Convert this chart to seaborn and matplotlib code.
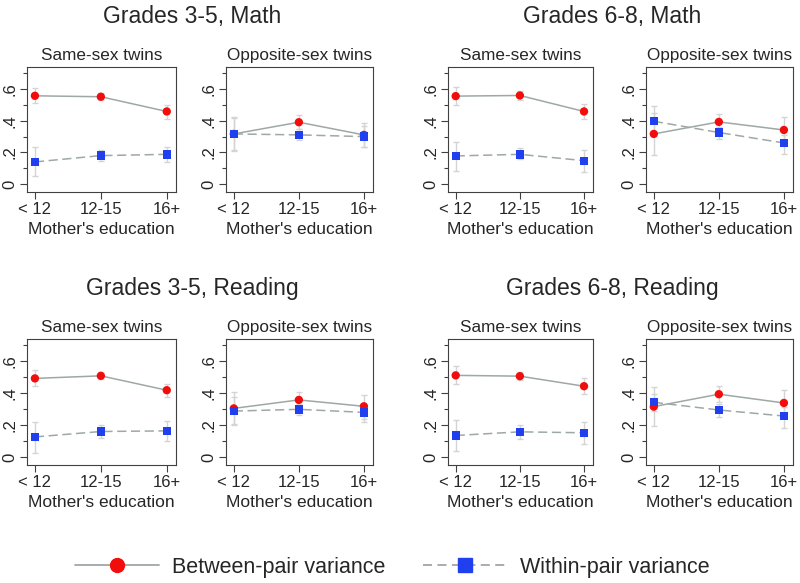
"""Between- vs within-pair variance of twin test scores by mother's education."""

import numpy as np
import pandas as pd
import matplotlib
matplotlib.use("Agg")
import matplotlib.pyplot as plt
from matplotlib.lines import Line2D
import seaborn as sns

sns.set_theme(style="white")
plt.rcParams["font.family"] = ["Liberation Sans", "DejaVu Sans"]

# ── data ─────────────────────────────────────────────────────────────────────
edu_levels = ["< 12", "12-15", "16+"]

# Grades 3-5, Math
m35_same_btw = [0.558, 0.552, 0.459]
m35_same_btw_ci = [(0.512, 0.607), (0.530, 0.575), (0.414, 0.499)]
m35_same_wth = [0.140, 0.180, 0.188]
m35_same_wth_ci = [(0.049, 0.233), (0.148, 0.216), (0.140, 0.237)]
m35_opp_btw = [0.317, 0.391, 0.311]
m35_opp_btw_ci = [(0.215, 0.420), (0.347, 0.438), (0.237, 0.385)]
m35_opp_wth = [0.317, 0.311, 0.300]
m35_opp_wth_ci = [(0.209, 0.423), (0.279, 0.347), (0.237, 0.364)]

# Grades 6-8, Math
m68_same_btw = [0.556, 0.560, 0.459]
m68_same_btw_ci = [(0.497, 0.613), (0.533, 0.586), (0.410, 0.505)]
m68_same_wth = [0.178, 0.188, 0.148]
m68_same_wth_ci = [(0.085, 0.268), (0.156, 0.226), (0.076, 0.216)]
m68_opp_btw = [0.317, 0.393, 0.342]
m68_opp_btw_ci = [(0.184, 0.450), (0.347, 0.444), (0.258, 0.427)]
m68_opp_wth = [0.397, 0.326, 0.260]
m68_opp_wth_ci = [(0.330, 0.492), (0.288, 0.359), (0.190, 0.311)]

# Grades 3-5, Reading
r35_same_btw = [0.493, 0.509, 0.419]
r35_same_btw_ci = [(0.444, 0.543), (0.490, 0.530), (0.375, 0.459)]
r35_same_wth = [0.126, 0.160, 0.164]
r35_same_wth_ci = [(0.027, 0.221), (0.120, 0.200), (0.099, 0.225)]
r35_opp_btw = [0.305, 0.358, 0.318]
r35_opp_btw_ci = [(0.206, 0.410), (0.309, 0.406), (0.238, 0.390)]
r35_opp_wth = [0.288, 0.299, 0.280]
r35_opp_wth_ci = [(0.200, 0.375), (0.263, 0.333), (0.221, 0.322)]

# Grades 6-8, Reading
r68_same_btw = [0.512, 0.507, 0.444]
r68_same_btw_ci = [(0.455, 0.568), (0.484, 0.533), (0.396, 0.495)]
r68_same_wth = [0.135, 0.158, 0.152]
r68_same_wth_ci = [(0.038, 0.234), (0.116, 0.200), (0.084, 0.221)]
r68_opp_btw = [0.316, 0.394, 0.339]
r68_opp_btw_ci = [(0.196, 0.440), (0.347, 0.444), (0.259, 0.423)]
r68_opp_wth = [0.343, 0.295, 0.257]
r68_opp_wth_ci = [(0.290, 0.396), (0.248, 0.333), (0.185, 0.312)]

group_titles = ["Grades 3-5, Math", "Grades 6-8, Math",
                "Grades 3-5, Reading", "Grades 6-8, Reading"]
panel_titles = ["Same-sex twins", "Opposite-sex twins"]
series_names = ["Between-pair variance", "Within-pair variance"]

panels = [
    (m35_same_btw, m35_same_btw_ci, m35_same_wth, m35_same_wth_ci),
    (m35_opp_btw, m35_opp_btw_ci, m35_opp_wth, m35_opp_wth_ci),
    (m68_same_btw, m68_same_btw_ci, m68_same_wth, m68_same_wth_ci),
    (m68_opp_btw, m68_opp_btw_ci, m68_opp_wth, m68_opp_wth_ci),
    (r35_same_btw, r35_same_btw_ci, r35_same_wth, r35_same_wth_ci),
    (r35_opp_btw, r35_opp_btw_ci, r35_opp_wth, r35_opp_wth_ci),
    (r68_same_btw, r68_same_btw_ci, r68_same_wth, r68_same_wth_ci),
    (r68_opp_btw, r68_opp_btw_ci, r68_opp_wth, r68_opp_wth_ci),
]

# ── styling ──────────────────────────────────────────────────────────────────
LINE_C = "#9ea8a6"
CI_C = "#d4d4d4"
RED = "#f20d0d"
BLUE = "#2040f0"
FRAME_C = "#404040"

W, H = 800, 583
fig = plt.figure(figsize=(W / 100, H / 100), dpi=100)

rows = [(67, 192), (339, 465)]
cols = [(27, 176), (226, 373), (448, 593), (646, 793)]


def box(l, t, r, b):
    return [l / W, 1 - b / H, (r - l) / W, (b - t) / H]


pos = np.arange(len(edu_levels))

for i, (btw, btw_ci, wth, wth_ci) in enumerate(panels):
    r, c = i // 4, i % 4
    ax = fig.add_axes(box(cols[c][0], rows[r][0], cols[c][1], rows[r][1]))

    df = pd.DataFrame({
        "pos": np.concatenate([pos, pos]),
        "value": btw + wth,
        "series": ["Between"] * 3 + ["Within"] * 3,
    })

    # confidence intervals
    for vals, ci in [(btw, btw_ci), (wth, wth_ci)]:
        lo = np.array([a for a, b in ci])
        hi = np.array([b for a, b in ci])
        v = np.array(vals)
        ax.errorbar(pos, v, yerr=[v - lo, hi - v], fmt="none", ecolor=CI_C,
                    elinewidth=1, capsize=2, capthick=1, zorder=1)

    sns.lineplot(data=df, x="pos", y="value", style="series",
                 dashes={"Between": "", "Within": (6, 3)},
                 color=LINE_C, linewidth=1.1, legend=False, ax=ax, zorder=2)
    sns.scatterplot(data=df, x="pos", y="value", hue="series", style="series",
                    markers={"Between": "o", "Within": "s"},
                    palette={"Between": RED, "Within": BLUE},
                    s=36, edgecolor="none", legend=False, ax=ax, zorder=3)

    ax.set_xlim(-0.12, 2.14)
    ax.set_ylim(-0.05, 0.74)
    ax.set_xticks(pos)
    ax.set_xticklabels(edu_levels, fontsize=12)
    ax.set_yticks([0, 0.2, 0.4, 0.6])
    ax.set_yticks([0.1, 0.3, 0.5, 0.7], minor=True)
    ax.set_yticklabels(["0", ".2", ".4", ".6"], rotation=90, va="center",
                       fontsize=12)
    ax.tick_params(axis="both", which="major", direction="out", length=5,
                   width=0.8, color=FRAME_C, pad=2, left=True, bottom=True)
    ax.tick_params(axis="y", which="minor", direction="out", length=3,
                   width=0.8, color=FRAME_C, left=True)
    for s in ax.spines.values():
        s.set_color(FRAME_C)
        s.set_linewidth(0.8)
    ax.set_xlabel("Mother's education", fontsize=12.5, labelpad=4)
    ax.set_ylabel("")
    ax.set_title(panel_titles[c % 2], fontsize=12.3, pad=5)

# group titles
for g, title in enumerate(group_titles):
    r, c = g // 2, g % 2
    x_mid = (cols[2 * c][0] + cols[2 * c + 1][1]) / 2 - 8
    y_px = 23 if r == 0 else 295
    fig.text(x_mid / W, 1 - y_px / H, title, ha="center", va="baseline",
             fontsize=16.5)

# legend
handles = [
    Line2D([], [], color=LINE_C, linewidth=1.3, marker="o", markersize=10,
           markerfacecolor=RED, markeredgecolor=RED),
    Line2D([], [], color=LINE_C, linewidth=1.3, linestyle=(0, (5, 3)),
           marker="s", markersize=9.5, markerfacecolor=BLUE, markeredgecolor=BLUE),
]
fig.legend(handles, series_names, loc="center", ncol=2, frameon=False,
           bbox_to_anchor=(392 / W, 1 - 567 / H), fontsize=15.5,
           handlelength=3.9, columnspacing=1.75, handletextpad=0.6)

fig.savefig("out.png", dpi=100)
